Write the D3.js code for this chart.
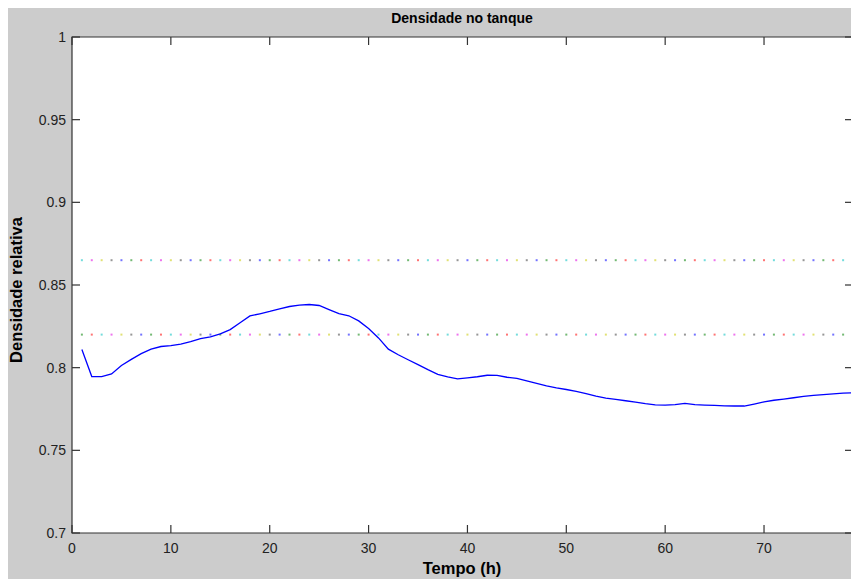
<!DOCTYPE html>
<html>
<head>
<meta charset="utf-8">
<script src="https://cdn.jsdelivr.net/npm/d3@7"></script>
<style>
  body { margin: 0; background: #fff; }
  text { font-family: "Liberation Sans", Arial, sans-serif; }
</style>
</head>
<body>
<div id="chart"></div>
<script>
// hours 1..79
const hours = d3.range(1, 80);
const density = [
  0.8110, 0.7946, 0.7946, 0.7962, 0.8013, 0.8050, 0.8085, 0.8112, 0.8128, 0.8133,
  0.8143, 0.8157, 0.8175, 0.8186, 0.8205, 0.8230, 0.8272, 0.8313, 0.8326, 0.8340,
  0.8356, 0.8370, 0.8378, 0.8382, 0.8376, 0.8351, 0.8327, 0.8314, 0.8283, 0.8237,
  0.8180, 0.8112, 0.8078, 0.8048, 0.8018, 0.7988, 0.7960, 0.7944, 0.7932, 0.7938,
  0.7945, 0.7954, 0.7953, 0.7942, 0.7935, 0.7920, 0.7905, 0.7890, 0.7878, 0.7868,
  0.7856, 0.7843, 0.7828, 0.7816, 0.7808, 0.7800, 0.7792, 0.7782, 0.7775, 0.7774,
  0.7776, 0.7784, 0.7776, 0.7774, 0.7772, 0.7769, 0.7768, 0.7768, 0.7780, 0.7793,
  0.7803, 0.7810, 0.7818, 0.7826, 0.7832, 0.7837, 0.7842, 0.7846, 0.7848
];
const limits = [0.865, 0.82];
const limitStart = [3, 1]; // index into the colour cycle for the first dot
const cycle = ["#0000ff", "#008000", "#ff0000", "#00c0c0", "#e000e0", "#c8c800", "#404040"];
const xTicks = [0, 10, 20, 30, 40, 50, 60, 70];
const yTicks = [0.7, 0.75, 0.8, 0.85, 0.9, 0.95, 1];

const W = 851, H = 579;
const mL = 72, mT = 37, mR = 853, mB = 533;

const svg = d3.select('#chart').append('svg').attr('width', W).attr('height', H);
svg.append('rect').attr('x', 8).attr('y', 8).attr('width', W - 8).attr('height', H - 8).attr('fill', '#cccccc');
svg.append('rect').attr('x', mL).attr('y', mT).attr('width', mR - mL).attr('height', mB - mT).attr('fill', '#fff');

const x = d3.scaleLinear().domain([0, 79]).range([mL, mR]);
const y = d3.scaleLinear().domain([0.7, 1]).range([mB, mT]);

// dotted limit lines, each dot coloured by the cycle
limits.forEach((v, i) => {
  svg.append('g').selectAll('rect').data(hours).enter().append('rect')
    .attr('x', d => x(d) - 1).attr('y', y(v) - 1)
    .attr('width', 2).attr('height', 2)
    .attr('fill', (d, j) => cycle[(limitStart[i] + j) % cycle.length])
    .attr('opacity', 0.55);
});

const line = d3.line().x((d, i) => x(hours[i])).y(d => y(d));
svg.append('path').datum(density).attr('d', line)
  .attr('fill', 'none').attr('stroke', '#0000ff').attr('stroke-width', 1.3);

// axes, MATLAB-style box with inward ticks
const ax = svg.append('g').attr('stroke', '#333').attr('stroke-width', 1.2).attr('fill', 'none');
ax.append('path').attr('d', `M${mL},${mT}H${mR}V${mB}H${mL}Z`);
xTicks.forEach(t => {
  ax.append('line').attr('x1', x(t)).attr('x2', x(t)).attr('y1', mB).attr('y2', mB - 8);
  ax.append('line').attr('x1', x(t)).attr('x2', x(t)).attr('y1', mT).attr('y2', mT + 8);
});
yTicks.forEach(t => {
  ax.append('line').attr('x1', mL).attr('x2', mL + 8).attr('y1', y(t)).attr('y2', y(t));
  ax.append('line').attr('x1', mR).attr('x2', mR - 8).attr('y1', y(t)).attr('y2', y(t));
});

svg.append('g').selectAll('text').data(xTicks).enter().append('text')
  .attr('x', d => x(d)).attr('y', 553).attr('text-anchor', 'middle')
  .attr('font-size', 14).attr('fill', '#222').text(d => d);
svg.append('g').selectAll('text').data(yTicks).enter().append('text')
  .attr('x', 66).attr('y', d => y(d) + 5).attr('text-anchor', 'end')
  .attr('font-size', 14).attr('fill', '#222').text(d => d);

svg.append('text').attr('x', 462).attr('y', 23).attr('text-anchor', 'middle')
  .attr('font-size', 14).attr('font-weight', 'bold').text('Densidade no tanque');
svg.append('text').attr('x', 462).attr('y', 574).attr('text-anchor', 'middle')
  .attr('font-size', 16.5).attr('font-weight', 'bold').text('Tempo (h)');
svg.append('text').attr('transform', 'translate(22,290) rotate(-90)').attr('text-anchor', 'middle')
  .attr('font-size', 16.5).attr('font-weight', 'bold').text('Densidade relativa');
</script>
</body>
</html>
